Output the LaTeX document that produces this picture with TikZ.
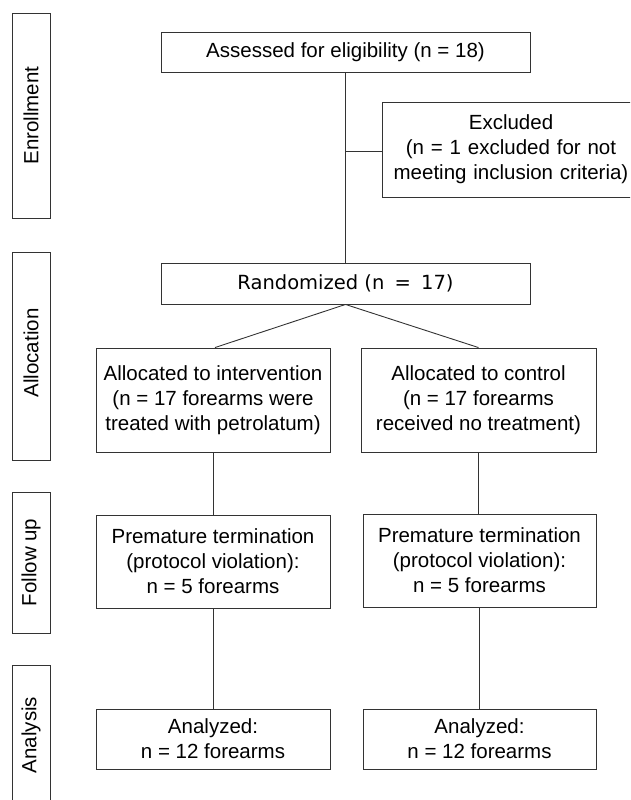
\documentclass[tikz,border=0pt]{standalone}
\usepackage{fontspec}
\setmainfont{Liberation Sans}
\newfontfamily\randfont{DejaVu Sans}
\begin{document}
\begin{tikzpicture}[x=1pt,y=-1pt,
  box/.style={draw=black!80, line width=0.9pt, inner sep=0pt, align=center, anchor=center,
    font=\fontsize{20.5}{25}\selectfont},
  side/.style={draw=black!80, line width=0.9pt},
  sidelabel/.style={rotate=90, anchor=center, inner sep=0pt, font=\fontsize{20.5}{25}\selectfont},
  conn/.style={draw=black!80, line width=0.9pt}]
\useasboundingbox (0,0) rectangle (630,800);
\clip (0,0) rectangle (630,800);
% side stage boxes
\draw[side] (12,13) rectangle (50,218);
\draw[side] (12,252) rectangle (50,460);
\draw[side] (12,492) rectangle (50,633);
\draw[side] (12,810) -- (12,665) -- (50,665) -- (50,810);
\node[sidelabel] (lenr) at (31,115.5) {Enrollment};
\node[sidelabel] (lall) at (31,353) {Allocation};
\node[sidelabel] (lfol) at (31,562.5) {Follow up};
\node[sidelabel] (lana) at (31,735) {Analysis};
% main boxes
\node[box, minimum width=369pt, minimum height=40pt] (assess) at (345.5,52) {Assessed for eligibility (n = 18)};
\coordinate (exc) at (511,149.5);
\draw[side] (640,102) -- (382,102) -- (382,197) -- (640,197);
\node[box, draw=none, minimum height=95pt, text width=250pt] (excl) at (exc)
  {Excluded\\(n = 1 excluded for not\\meeting inclusion criteria)};
\coordinate (exw) at (382,149.5);
\node[box, minimum width=369pt, minimum height=41pt] (rand) at (345.5,283.5)
  {{\randfont\fontsize{19.5}{24}\selectfont Randomized (n\hspace{4pt} = \hspace{4pt}17)}};
\node[box, minimum width=234pt, minimum height=104pt] (allocL) at (213,400)
  {Allocated to intervention\\(n = 17 forearms were\\treated with petrolatum)};
\node[box, minimum width=235pt, minimum height=104pt] (allocR) at (478.5,400)
  {Allocated to control\\(n = 17 forearms\\received no treatment)};
\node[box, minimum width=234pt, minimum height=93pt] (premL) at (213,561.5)
  {Premature termination\\(protocol violation):\\n = 5 forearms};
\node[box, minimum width=233pt, minimum height=93pt] (premR) at (479.5,560.5)
  {Premature termination\\(protocol violation):\\n = 5 forearms};
\node[box, minimum width=234pt, minimum height=60pt] (anaL) at (213,739)
  {Analyzed:\\n = 12 forearms};
\node[box, minimum width=233pt, minimum height=60pt] (anaR) at (479.5,739)
  {Analyzed:\\n = 12 forearms};
% connectors
\draw[conn] (assess.south) -- (rand.north);
\coordinate (br) at (345.5,151);
\draw[conn] (br) -- (br -| exw);
\draw[conn] (rand.south) -- ([xshift=2pt]allocL.north);
\draw[conn] (rand.south) -- (allocR.north);
\draw[conn] (allocL.south) -- (premL.north);
\draw[conn] (allocR.south) -- (allocR.south |- premR.north);
\draw[conn] (premL.south) -- (anaL.north);
\draw[conn] (premR.south) -- (anaR.north);
\end{tikzpicture}
\end{document}
